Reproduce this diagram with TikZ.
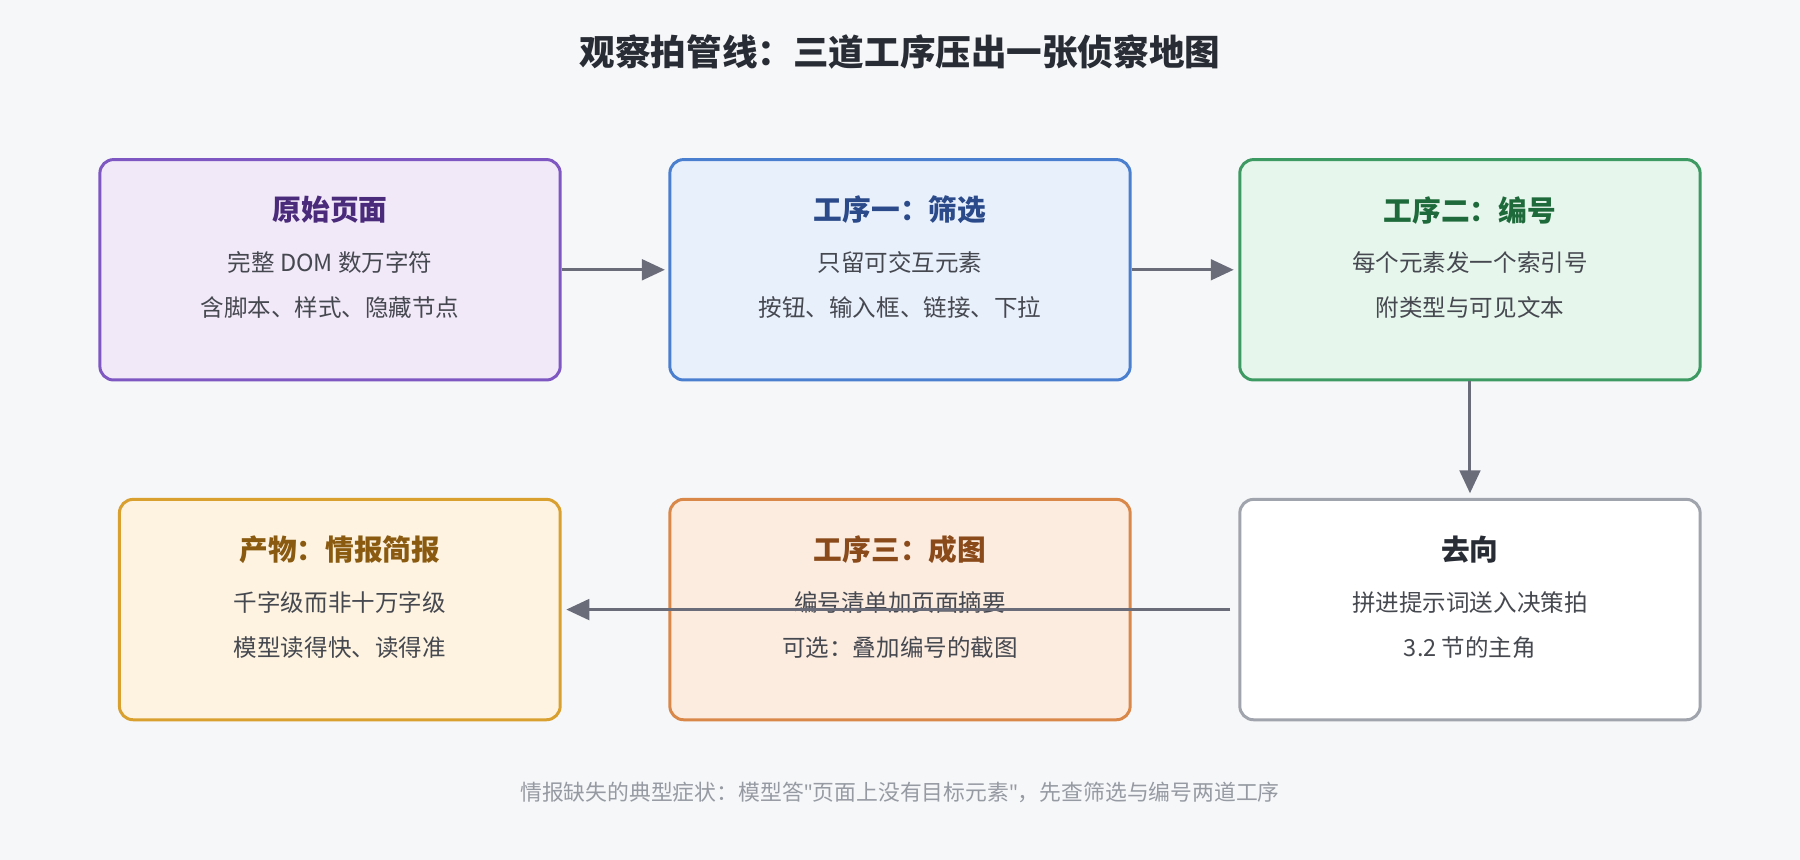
\documentclass[tikz,border=0pt]{standalone}
\usepackage{fontspec}
\setmainfont{Noto Sans CJK SC}
\newfontfamily\quotefont{Noto Sans}
\usetikzlibrary{positioning, arrows.meta}
\definecolor{PageBg}{RGB}{246, 247, 249}
\definecolor{ArrowGrey}{RGB}{107, 108, 122}
\definecolor{InkDark}{RGB}{40, 44, 52}
\definecolor{NoteGrey}{RGB}{150, 154, 162}
\definecolor{BodyGrey}{RGB}{70, 72, 80}
\definecolor{PurpleLine}{RGB}{126, 87, 194}
\definecolor{PurpleFill}{RGB}{241, 232, 248}
\definecolor{PurpleInk}{RGB}{74, 42, 122}
\definecolor{BlueLine}{RGB}{74, 127, 208}
\definecolor{BlueFill}{RGB}{232, 240, 252}
\definecolor{BlueInk}{RGB}{42, 74, 138}
\definecolor{GreenLine}{RGB}{61, 154, 98}
\definecolor{GreenFill}{RGB}{230, 246, 236}
\definecolor{GreenInk}{RGB}{30, 106, 58}
\definecolor{GreyLine}{RGB}{160, 164, 172}
\definecolor{OrangeLine}{RGB}{217, 136, 74}
\definecolor{OrangeFill}{RGB}{252, 236, 224}
\definecolor{OrangeInk}{RGB}{138, 74, 26}
\definecolor{GoldLine}{RGB}{217, 160, 48}
\definecolor{GoldFill}{RGB}{253, 243, 224}
\definecolor{GoldInk}{RGB}{138, 90, 16}

\begin{document}
\begin{tikzpicture}[x=1pt, y=-1pt,
    stage/.style={draw, line width=2.6pt, rounded corners=12pt, minimum width=401pt, minimum height=192pt},
    head/.style={font=\fontsize{25}{29}\selectfont\bfseries},
    body/.style={font=\fontsize{20.5}{24}\selectfont, text=BodyGrey},
    flow/.style={ArrowGrey, line width=2.6pt, -{Triangle[length=20pt, width=18pt]}}]
    % Hintergrund
    \fill[PageBg] (0,0) rectangle (1568,749);
    \node[font=\fontsize{31}{36}\selectfont\bfseries, text=InkDark] (title) at (784,45) {观察拍管线：三道工序压出一张侦察地图};

    % Obere Reihe
    \node[stage, draw=PurpleLine, fill=PurpleFill] (raw) at (287.5,235) {};
    \node[head, text=PurpleInk] at (287.5,183) {原始页面};
    \node[body] at (287.5,229) {完整 DOM 数万字符};
    \node[body] at (287.5,268) {含脚本、样式、隐藏节点};

    \node[stage, draw=BlueLine, fill=BlueFill] (filter) at (784,235) {};
    \node[head, text=BlueInk] at (784,183) {工序一：筛选};
    \node[body] at (784,229) {只留可交互元素};
    \node[body] at (784,268) {按钮、输入框、链接、下拉};

    \node[stage, draw=GreenLine, fill=GreenFill] (number) at (1280.5,235) {};
    \node[head, text=GreenInk] at (1280.5,183) {工序二：编号};
    \node[body] at (1280.5,229) {每个元素发一个索引号};
    \node[body] at (1280.5,268) {附类型与可见文本};

    % Untere Reihe
    \node[stage, draw=GreyLine, fill=white] (dest) at (1280.5,531) {};
    \node[head, text=InkDark] at (1280.5,479) {去向};
    \node[body] at (1280.5,525) {拼进提示词送入决策拍};
    \node[body] at (1280.5,564) {3.2 节的主角};

    \node[stage, draw=OrangeLine, fill=OrangeFill] (render) at (784,531) {};
    \node[head, text=OrangeInk] at (784,479) {工序三：成图};
    \node[body] at (784,525) {编号清单加页面摘要};
    \node[body] at (784,564) {可选：叠加编号的截图};

    \node[stage, draw=GoldLine, fill=GoldFill, minimum width=384pt] (brief) at (296,531) {};
    \node[head, text=GoldInk] at (296,479) {产物：情报简报};
    \node[body] at (296,525) {千字级而非十万字级};
    \node[body] at (296,564) {模型读得快、读得准};

    % Pfeile
    \draw[flow] (raw.east) -- ([xshift=-3pt]filter.west);
    \draw[flow] (filter.east) -- ([xshift=-4pt]number.west);
    \draw[flow] (number.south) -- ([yshift=4pt]dest.north);
    \draw[flow] ([xshift=-7pt]dest.west) -- ([xshift=4pt]brief.east);

    \node[font=\fontsize{19}{23}\selectfont, text=NoteGrey] (note) at (784,690) {情报缺失的典型症状：模型答{\quotefont\char"22}页面上没有目标元素{\quotefont\char"22}，先查筛选与编号两道工序};
\end{tikzpicture}
\end{document}
